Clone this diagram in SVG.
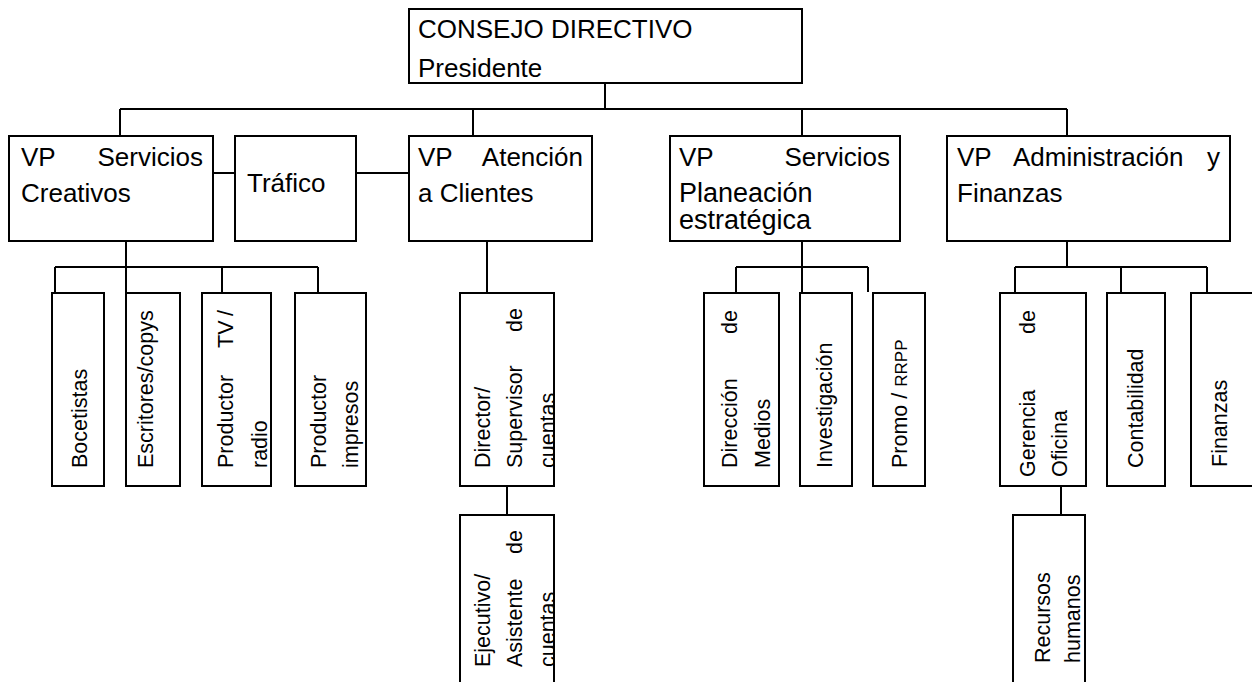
<svg xmlns="http://www.w3.org/2000/svg" width="1252" height="682" viewBox="0 0 1252 682">
<style>
.box{fill:#fff;stroke:#000;stroke-width:2}
.ln{stroke:#000;stroke-width:2;fill:none}
.t{font-family:"Liberation Sans",Arial,sans-serif;font-size:26px;fill:#000}
.p{font-family:"Liberation Sans",Arial,sans-serif;font-size:27px;fill:#000}
.r{font-family:"Liberation Sans",Arial,sans-serif;font-size:21.5px;fill:#000}
.e{text-anchor:end}
</style>
<defs>
<clipPath id="cDir"><rect x="461" y="294" width="92" height="191"/></clipPath>
<clipPath id="cEje"><rect x="461" y="516" width="92" height="170"/></clipPath>
</defs>
<g id="connectors">
<path class="ln" d="M605 83V109M120 109H1067M120 109V136M473 109V136M802 109V136M1067 109V136"/>
<path class="ln" d="M213 173H235M356 173H409"/>
<path class="ln" d="M126 241V293M55 267H318M55 267V293M222 267V293M318 267V293"/>
<path class="ln" d="M487 241V293M507 486V515"/>
<path class="ln" d="M802 241V293M736 267H868M736 267V293M868 267V292"/>
<path class="ln" d="M1067 241V267M1015 267H1207M1015 267V293M1121 267V293M1207 267V293M1061 486V515"/>
</g>
<g id="consejo">
<rect class="box" x="409" y="9" width="393" height="74"/>
<text class="t" x="418" y="38">CONSEJO DIRECTIVO</text>
<text class="t" x="418" y="77">Presidente</text>
</g>
<g id="vp-creativos">
<rect class="box" x="9" y="136" width="204" height="105"/>
<text class="t" y="166"><tspan x="21">VP</tspan><tspan class="e" x="203">Servicios</tspan></text>
<text class="t" x="21" y="202">Creativos</text>
</g>
<g id="trafico">
<rect class="box" x="235" y="136" width="121" height="105"/>
<text class="t" x="247" y="192">Tráfico</text>
</g>
<g id="vp-atencion">
<rect class="box" x="409" y="136" width="183" height="105"/>
<text class="t" y="166"><tspan x="418">VP</tspan><tspan class="e" x="583">Atención</tspan></text>
<text class="t" x="418" y="202">a Clientes</text>
</g>
<g id="vp-planeacion">
<rect class="box" x="670" y="136" width="230" height="105"/>
<text class="t" y="166"><tspan x="679">VP</tspan><tspan class="e" x="890">Servicios</tspan></text>
<text class="p" x="679" y="202">Planeación</text>
<text class="p" x="679" y="229">estratégica</text>
</g>
<g id="vp-administracion">
<rect class="box" x="947" y="136" width="283" height="105"/>
<text class="t" y="166"><tspan x="957">VP</tspan><tspan x="1013">Administración</tspan><tspan class="e" x="1220">y</tspan></text>
<text class="t" x="957" y="202">Finanzas</text>
</g>
<g id="bocetistas">
<rect class="box" x="52" y="293" width="52" height="193"/>
<text class="r" transform="rotate(-90)" x="-468" y="87">Bocetistas</text>
</g>
<g id="escritores">
<rect class="box" x="126" y="293" width="54" height="193"/>
<text class="r" transform="rotate(-90)" x="-468" y="153">Escritores/copys</text>
</g>
<g id="productor-tv">
<rect class="box" x="202" y="293" width="69" height="193"/>
<text class="r" transform="rotate(-90)" y="233"><tspan x="-468">Productor</tspan><tspan x="-348">TV</tspan><tspan class="e" x="-310">/</tspan></text>
<text class="r" transform="rotate(-90)" x="-468" y="267">radio</text>
</g>
<g id="productor-impresos">
<rect class="box" x="295" y="293" width="71" height="193"/>
<text class="r" transform="rotate(-90)" x="-468" y="326">Productor</text>
<text class="r" transform="rotate(-90)" x="-468" y="358">impresos</text>
</g>
<g id="director">
<rect class="box" x="460" y="293" width="94" height="193"/>
<g clip-path="url(#cDir)">
<text class="r" transform="rotate(-90)" x="-468" y="490">Director/</text>
<text class="r" transform="rotate(-90)" y="522"><tspan x="-468">Supervisor</tspan><tspan class="e" x="-308">de</tspan></text>
<text class="r" transform="rotate(-90)" x="-468" y="555">cuentas</text>
</g>
</g>
<g id="ejecutivo">
<rect class="box" x="460" y="515" width="94" height="180"/>
<g clip-path="url(#cEje)">
<text class="r" transform="rotate(-90)" x="-667" y="490">Ejecutivo/</text>
<text class="r" transform="rotate(-90)" y="522"><tspan x="-667">Asistente</tspan><tspan class="e" x="-530">de</tspan></text>
<text class="r" transform="rotate(-90)" x="-667" y="555">cuentas</text>
</g>
</g>
<g id="direccion-medios">
<rect class="box" x="704" y="293" width="75" height="193"/>
<text class="r" transform="rotate(-90)" y="737"><tspan x="-468">Dirección</tspan><tspan class="e" x="-310">de</tspan></text>
<text class="r" transform="rotate(-90)" x="-468" y="770">Medios</text>
</g>
<g id="investigacion">
<rect class="box" x="800" y="293" width="52" height="193"/>
<text class="r" transform="rotate(-90)" x="-468" y="832">Investigación</text>
</g>
<g id="promo">
<rect class="box" x="873" y="293" width="52" height="193"/>
<text class="r" transform="rotate(-90)" x="-468" y="907">Promo / <tspan font-size="17">RRPP</tspan></text>
</g>
<g id="gerencia">
<rect class="box" x="1000" y="293" width="86" height="193"/>
<text class="r" transform="rotate(-90)" y="1035"><tspan x="-477">Gerencia</tspan><tspan class="e" x="-310">de</tspan></text>
<text class="r" transform="rotate(-90)" x="-477" y="1067">Oficina</text>
</g>
<g id="contabilidad">
<rect class="box" x="1107" y="293" width="58" height="193"/>
<text class="r" transform="rotate(-90)" x="-468" y="1143">Contabilidad</text>
</g>
<g id="finanzas">
<rect class="box" x="1191" y="293" width="70" height="193"/>
<text class="r" transform="rotate(-90)" x="-467" y="1227">Finanzas</text>
</g>
<g id="recursos">
<rect class="box" x="1013" y="515" width="72" height="180"/>
<text class="r" transform="rotate(-90)" x="-663" y="1050">Recursos</text>
<text class="r" transform="rotate(-90)" x="-663" y="1080">humanos</text>
</g>
</svg>
